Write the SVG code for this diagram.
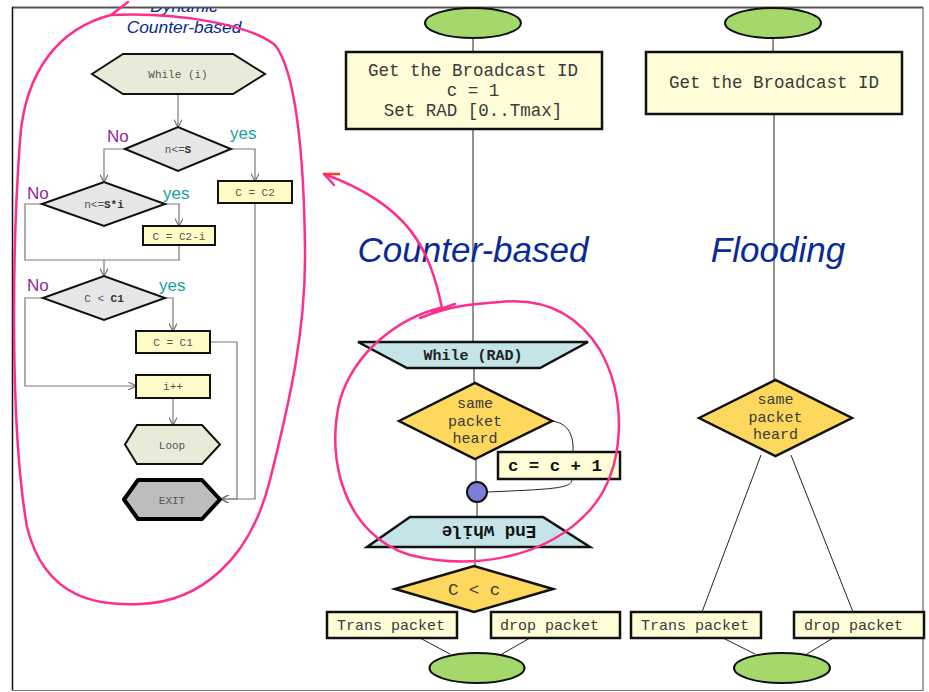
<svg xmlns="http://www.w3.org/2000/svg" width="929" height="692" viewBox="0 0 929 692">
<style>
.mono{font-family:"Liberation Mono","Courier New",monospace;fill:#3a3a3a}
.lmono{font-family:"Liberation Mono","Courier New",monospace;fill:#555;font-size:11px}
.lbl{font-family:"Liberation Sans",Arial,sans-serif;font-size:17px}
.no{fill:#8e2a9c}
.yes{fill:#17a0a0}
.title{font-family:"Liberation Sans",Arial,sans-serif;font-style:italic;fill:#0a2a96}
.hexL{fill:#e9ebd9;stroke:#111;stroke-width:2}
.diaL{fill:#e6e6e6;stroke:#111;stroke-width:2}
.boxL{fill:#fffbc6;stroke:#111;stroke-width:2}
.boxM{fill:#fffdd7;stroke:#111;stroke-width:2.5}
.ell{fill:#a4d86a;stroke:#111;stroke-width:2}
.dia{fill:#fdd85d;stroke:#111;stroke-width:2.5}
.trap{fill:#c4e4e8;stroke:#111;stroke-width:2.5}
.cg{fill:none;stroke:#7a7a7a;stroke-width:1.2}
.cb{fill:none;stroke:#222;stroke-width:1}
.pink{fill:none;stroke:#fe2e8e;stroke-width:2.5;stroke-linecap:round}
</style>
<defs>
<marker id="arr" viewBox="0 0 10 10" refX="9.5" refY="5" markerWidth="8" markerHeight="8" markerUnits="userSpaceOnUse" orient="auto">
<path d="M0,0 L10,5 L0,10" fill="none" stroke="#6a6a6a" stroke-width="1.4"/>
</marker>
<clipPath id="topclip"><rect x="0" y="8" width="929" height="684"/></clipPath>
</defs>

<!-- frame -->
<g id="frame">
<line x1="12" y1="7.5" x2="923" y2="7.5" stroke="#555" stroke-width="2"/>
<line x1="12.5" y1="7" x2="12.5" y2="691" stroke="#111" stroke-width="1.5"/>
<line x1="923" y1="7" x2="923" y2="691" stroke="#666" stroke-width="1.2"/>
<line x1="12" y1="690.5" x2="923" y2="690.5" stroke="#777" stroke-width="1.2"/>
</g>

<!-- connectors -->
<g id="connectors">
<path class="cg" d="M178,94 V127" marker-end="url(#arr)"/>
<path class="cg" d="M125,149 H104 V182" marker-end="url(#arr)"/>
<path class="cg" d="M231,149 H255 V181" marker-end="url(#arr)"/>
<path class="cg" d="M165,204 H179 V226" marker-end="url(#arr)"/>
<path class="cg" d="M42,204 H25 V260 H179 V245"/>
<path class="cg" d="M104,260 V276" marker-end="url(#arr)"/>
<path class="cg" d="M43,298 H25 V386 H136" marker-end="url(#arr)"/>
<path class="cg" d="M165,298 H173 V331" marker-end="url(#arr)"/>
<path class="cg" d="M210,342 H237 V499 H221" marker-end="url(#arr)"/>
<path class="cg" d="M255,203 V499 H221" marker-end="url(#arr)"/>
<path class="cg" d="M173,398 V425" marker-end="url(#arr)"/>

<path class="cb" d="M473,38 V52"/>
<path class="cb" d="M473,129 V342"/>
<path class="cb" d="M474,368 V383"/>
<path class="cb" d="M552,421 C566,423 574,432 573,452"/>
<path class="cb" d="M572,478 C573,488 560,489 487,492"/>
<path class="cb" d="M476,459 V482"/>
<path class="cb" d="M477,502 V517"/>
<path class="cb" d="M475,547 V566"/>
<path class="cb" d="M420,638 L450,654"/>
<path class="cb" d="M530,638 L502,654"/>

<path class="cb" d="M773,38 V52"/>
<path class="cb" d="M774,114 V380"/>
<path class="cb" d="M761,455 L702,612"/>
<path class="cb" d="M791,455 L853,612"/>
<path class="cb" d="M723,638 L755,654"/>
<path class="cb" d="M833,638 L807,654"/>
</g>

<!-- left flowchart -->
<g id="L-title" clip-path="url(#topclip)">
<text class="title" x="184" y="12" font-size="17.4" text-anchor="middle">Dynamic</text>
<text class="title" x="184" y="33" font-size="17.4" text-anchor="middle">Counter-based</text>
</g>
<g id="L-while">
<polygon class="hexL" points="92,74 123,54 233,54 265,74 233,94 123,94"/>
<text class="lmono" x="178" y="78" text-anchor="middle">While (i)</text>
</g>
<g id="L-d1">
<polygon class="diaL" points="125,149 178,127 231,149 178,171"/>
<text class="lmono" x="178" y="153" text-anchor="middle">n&lt;=<tspan font-weight="bold" fill="#333">S</tspan></text>
<text class="lbl no" x="107" y="142">No</text>
<text class="lbl yes" x="230" y="139">yes</text>
</g>
<g id="L-c2">
<rect class="boxL" x="218" y="181" width="74" height="22"/>
<text class="lmono" x="255" y="196" text-anchor="middle">C = C2</text>
</g>
<g id="L-d2">
<polygon class="diaL" points="42,204 104,182 165,204 104,226"/>
<text class="lmono" x="104" y="208" text-anchor="middle">n&lt;=<tspan font-weight="bold" fill="#333">S*i</tspan></text>
<text class="lbl no" x="27" y="199">No</text>
<text class="lbl yes" x="163" y="199">yes</text>
</g>
<g id="L-c2i">
<rect class="boxL" x="143" y="226" width="72" height="19"/>
<text class="lmono" x="179" y="240" text-anchor="middle">C = C2-i</text>
</g>
<g id="L-d3">
<polygon class="diaL" points="43,298 104,276 165,298 104,320"/>
<text class="lmono" x="104" y="302" text-anchor="middle">C &lt; <tspan font-weight="bold" fill="#333">C1</tspan></text>
<text class="lbl no" x="27" y="291">No</text>
<text class="lbl yes" x="159" y="291">yes</text>
</g>
<g id="L-c1">
<rect class="boxL" x="136" y="331" width="74" height="22"/>
<text class="lmono" x="173" y="346" text-anchor="middle">C = C1</text>
</g>
<g id="L-inc">
<rect class="boxL" x="136" y="375" width="74" height="23"/>
<text class="lmono" x="173" y="390" text-anchor="middle">i++</text>
</g>
<g id="L-loop">
<polygon class="hexL" points="125,444.5 137,425 202,425 220,444.5 202,464 137,464"/>
<text class="lmono" x="172" y="448.5" text-anchor="middle">Loop</text>
</g>
<g id="L-exit">
<polygon points="124,499.5 138,480 202,480 220,499.5 202,519 138,519" fill="#bdbdbd" stroke="#000" stroke-width="4" stroke-linejoin="round"/>
<text class="lmono" x="172" y="503.5" text-anchor="middle">EXIT</text>
</g>

<!-- middle flowchart -->
<g id="M-start"><ellipse class="ell" cx="473" cy="23" rx="48" ry="15"/></g>
<g id="M-init">
<rect class="boxM" x="346" y="52" width="256" height="77"/>
<text class="mono" font-size="17.5" x="473" y="76" text-anchor="middle">Get the Broadcast ID</text>
<text class="mono" font-size="17.5" x="473" y="96" text-anchor="middle">c = 1</text>
<text class="mono" font-size="17.5" x="473" y="116" text-anchor="middle">Set RAD [0..Tmax]</text>
</g>
<g id="M-title"><text class="title" x="473" y="262" font-size="35" text-anchor="middle">Counter-based</text></g>
<g id="M-while">
<polygon class="trap" points="358,342 588,342 540,368 407,368"/>
<text class="mono" font-size="15" font-weight="bold" fill="#222" x="473" y="360" text-anchor="middle" style="fill:#222">While (RAD)</text>
</g>
<g id="M-heard">
<polygon class="dia" points="399,421 475,383 552,421 475,459"/>
<text class="mono" font-size="15" x="475" y="408" text-anchor="middle">same</text>
<text class="mono" font-size="15" x="475" y="425.5" text-anchor="middle">packet</text>
<text class="mono" font-size="15" x="475" y="443" text-anchor="middle">heard</text>
</g>
<g id="M-inc">
<rect class="boxM" x="498" y="452" width="122" height="27"/>
<text class="mono" font-size="17.4" font-weight="bold" x="508" y="471" style="fill:#111">c = c + 1</text>
</g>
<g id="M-join"><circle cx="477" cy="492" r="10" fill="#7b7fd6" stroke="#111" stroke-width="2"/></g>
<g id="M-endwhile">
<polygon class="trap" points="410,517 543,517 590,547 367,547"/>
<text class="mono" font-size="17.5" font-weight="bold" x="0" y="0" text-anchor="middle" transform="translate(489,526) rotate(180)" style="fill:#111">End while</text>
</g>
<g id="M-cmp">
<polygon class="dia" points="395,589 474,566 553,589 474,612"/>
<text class="mono" font-size="17.4" x="474" y="594.5" text-anchor="middle">C &lt; c</text>
</g>
<g id="M-trans">
<rect class="boxM" x="327" y="612" width="130" height="26"/>
<text class="mono" font-size="15" x="337" y="630">Trans packet</text>
</g>
<g id="M-drop">
<rect class="boxM" x="491" y="612" width="129" height="26"/>
<text class="mono" font-size="15" x="500" y="630">drop packet</text>
</g>
<g id="M-end"><ellipse class="ell" cx="477" cy="668" rx="47.5" ry="15"/></g>

<!-- right flowchart -->
<g id="R-start"><ellipse class="ell" cx="773" cy="23" rx="48" ry="15"/></g>
<g id="R-init">
<rect class="boxM" x="646" y="52" width="256" height="62"/>
<text class="mono" font-size="17.5" x="774" y="88" text-anchor="middle">Get the Broadcast ID</text>
</g>
<g id="R-title"><text class="title" x="778" y="262" font-size="35" text-anchor="middle">Flooding</text></g>
<g id="R-heard">
<polygon class="dia" points="699,418 775.5,380 852,418 775.5,456"/>
<text class="mono" font-size="15" x="775.5" y="404" text-anchor="middle">same</text>
<text class="mono" font-size="15" x="775.5" y="422" text-anchor="middle">packet</text>
<text class="mono" font-size="15" x="775.5" y="439" text-anchor="middle">heard</text>
</g>
<g id="R-trans">
<rect class="boxM" x="631" y="612" width="130" height="26"/>
<text class="mono" font-size="15" x="641" y="630">Trans packet</text>
</g>
<g id="R-drop">
<rect class="boxM" x="794" y="612" width="130" height="26"/>
<text class="mono" font-size="15" x="804" y="630">drop packet</text>
</g>
<g id="R-end"><ellipse class="ell" cx="782" cy="668" rx="48" ry="15"/></g>

<!-- pink annotations -->
<g id="annotations">
<path class="pink" d="M128,2 L111,15 C60,28 25,70 20,140 C12,250 10,430 27,527 C45,600 100,606 140,604 C200,602 250,560 270,480 C290,400 306,330 305,250 C304,150 295,70 275,45 C250,25 180,12 111,15"/>
<path class="pink" d="M440,308 C400,318 355,350 340,400 C325,460 345,535 410,555 C470,570 545,560 590,510 C625,470 628,400 600,350 C575,310 540,298 500,302 C470,304 450,306 420,318"/>
<path class="pink" d="M442,308 C430,250 410,205 324,174"/>
<path class="pink" d="M324,174 L334,185"/>
<path d="M324,174 L340,174" stroke="#ff3a2a" stroke-width="2.5" fill="none"/>
<path class="pink" d="M432,312 L455,304"/>
</g>
</svg>
